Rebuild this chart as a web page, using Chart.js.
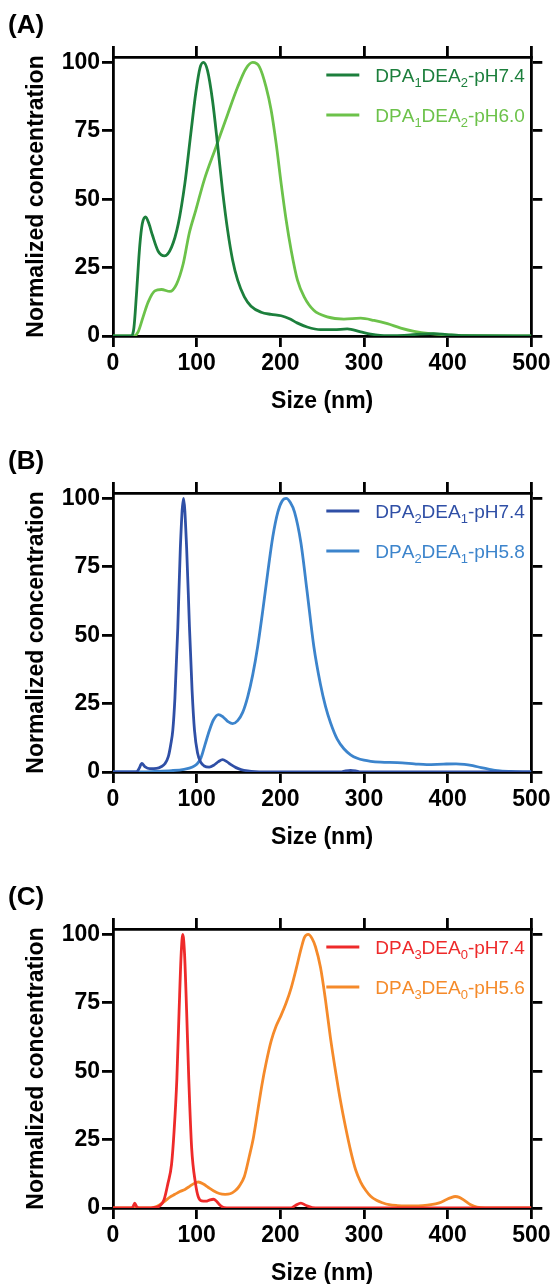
<!DOCTYPE html>
<html>
<head>
<meta charset="utf-8">
<title>Size distribution</title>
<script src="https://cdn.jsdelivr.net/npm/chart.js@4.4.1/dist/chart.umd.min.js"></script>
<style>
  html, body { margin: 0; padding: 0; background: #fff; overflow: hidden; }
  .panel { position: relative; width: 553px; height: 436px; }
</style>
</head>
<body>
<div class="panel"><canvas id="panelA"></canvas></div>
<div class="panel"><canvas id="panelB"></canvas></div>
<div class="panel"><canvas id="panelC"></canvas></div>

<script>
// ---- data (size in nm, normalized concentration) ----

// (A) DPA1DEA2
const sizeA74 = [0, 22, 25, 28, 32, 35, 39, 43, 47, 54, 61.6, 70, 78, 86, 93, 99, 104, 108, 113, 119, 125, 131, 137, 143, 149, 157, 165, 177, 189, 201, 211, 220, 232, 248, 264, 280, 296, 308, 328, 348, 367, 383, 399, 419, 500];
const concA74 = [0, 0, 3, 15, 33, 41, 43.5, 41, 37, 31, 29.3, 32.5, 41, 56, 74, 89, 98, 100, 97, 86, 70, 53, 38.7, 27.7, 20.4, 14.3, 10.9, 8.7, 7.9, 7.4, 6.3, 4.8, 3.3, 2.3, 2.3, 2.6, 1.5, 0.7, 0.1, 0.2, 0.7, 0.9, 0.5, 0.1, 0];
const sizeA60 = [0, 25, 30, 36, 42, 50, 58, 68, 76, 84, 91, 99, 109, 123, 137, 149, 159, 167, 175, 183, 189, 195, 201, 207, 213, 220.5, 228.5, 240, 256, 276, 296, 312, 328, 344, 360, 379, 399, 427, 500];
const concA60 = [0, 0, 1.5, 7, 12.4, 16.5, 17, 16.3, 19, 26.5, 37.4, 46, 57, 69, 81, 91, 97.8, 100, 98.4, 91, 82.6, 70.4, 55.7, 42.3, 31.3, 20.4, 14.3, 9.4, 7, 6.2, 6.5, 5.7, 4.5, 2.9, 1.7, 0.85, 0.4, 0.1, 0];

// (B) DPA2DEA1
const sizeB74 = [0, 28, 31, 34.5, 38, 44, 52, 58, 62, 66, 69, 71.5, 74, 77.5, 80.5, 84.3, 88, 91.4, 94.5, 97.4, 101, 105, 109, 115, 121, 126, 131, 136, 141, 147, 153, 161, 170, 180, 272, 278, 284, 290, 296, 500];
const concB74 = [0, 0, 1.2, 3.1, 2, 1.2, 1.3, 2, 3, 5.5, 10, 15.3, 27, 53, 82, 100, 82, 53, 30, 15.3, 7, 3.5, 2.2, 1.8, 2.6, 3.8, 4.5, 3.8, 2.7, 1.6, 0.9, 0.4, 0.1, 0, 0, 0.4, 0.6, 0.4, 0, 0];
const sizeB58 = [0, 30, 50, 70, 85, 95, 100, 105, 110, 115, 120, 126, 132, 138, 143, 149, 155, 161, 167, 173, 179, 185, 191, 197, 202, 207, 212, 217, 224.5, 232, 240, 248, 254, 260, 268, 276, 284, 292, 300, 308, 320, 340, 360, 375, 395, 410, 420, 430, 440, 450, 460, 475, 490, 500];
const concB58 = [0, 0, 0.2, 0.5, 1, 1.8, 2.8, 5, 10, 15, 19, 21, 20, 18.3, 17.7, 18.8, 21.8, 27.5, 35.5, 46, 59, 73, 86, 95, 99, 100, 98.5, 95, 84, 66, 46, 32, 24, 18, 12, 8.5, 6.3, 5, 4.3, 3.9, 3.6, 3.4, 3.0, 2.7, 2.9, 3.0, 2.8, 2.3, 1.6, 1.0, 0.5, 0.2, 0.05, 0];

// (C) DPA3DEA0
const sizeC74 = [0, 22, 24, 26, 28, 31, 40, 50, 56, 61, 65.6, 70, 73, 76.3, 79, 81.5, 83.4, 85.5, 88, 90.6, 94, 98.6, 102, 106, 111, 116, 120, 124, 128, 133, 140, 212, 218, 224.5, 231, 242, 500];
const concC74 = [0, 0, 0.5, 1.8, 0.6, 0, 0, 0.2, 0.8, 3, 8.9, 16, 28, 47, 72, 93, 100, 93, 72, 47, 22, 9, 4, 2.6, 2.5, 3.0, 3.2, 2.4, 1, 0.1, 0, 0, 0.9, 1.8, 0.9, 0, 0];
const sizeC56 = [0, 45, 50, 56, 62, 68, 74, 80, 86, 92, 97, 102, 108, 114, 120, 127, 134, 140, 146, 151, 157, 163, 168, 173, 178, 183, 189, 195, 201, 207, 213, 219, 225, 229, 233.3, 238, 242, 248, 254, 260, 266, 272, 278, 284, 290, 296, 302, 308, 315, 322, 330, 340, 350, 360, 370, 380, 390, 398, 404, 409, 414, 420, 427, 435, 445, 500];
const concC56 = [0, 0, 0.3, 1.2, 2.5, 4, 5, 6, 6.8, 8, 9, 9.5, 8.8, 7.5, 6.3, 5.3, 5, 5.2, 6.3, 8, 11.5, 19, 26, 35.5, 45, 53, 61, 66.5, 70.5, 75, 80.5, 87.5, 95, 99, 100, 98.5, 95.5, 88, 76, 62, 50, 39, 29.5, 21, 14, 9.5, 6.5, 4.3, 2.8, 1.9, 1.2, 0.9, 0.8, 0.8, 0.9, 1.2, 1.9, 3.0, 3.8, 4.2, 3.9, 2.8, 1.3, 0.3, 0, 0];

const xTicks = [0, 100, 200, 300, 400, 500];
const yTicks = [0, 25, 50, 75, 100];

Chart.defaults.font.family = "'Liberation Sans', Arial, Helvetica, sans-serif";
Chart.defaults.color = "#000";

const AXIS_W = 2.8;
const LINE_W = 2.8;
const TICK_LEN = 11;

function toPoints(xs, ys) {
  return xs.map((x, i) => ({ x: x, y: ys[i] }));
}

// legend drawn inside the plot, top right, with subscript digits
const SUBS = "₀₁₂₃₄₅₆₇₈₉";
const insideLegend = {
  id: "insideLegend",
  afterDatasetsDraw(chart) {
    const ctx = chart.ctx;
    const area = chart.chartArea;
    ctx.save();
    chart.data.datasets.forEach((ds, i) => {
      const y = area.top + 18 + i * 40;
      ctx.strokeStyle = ds.borderColor;
      ctx.lineWidth = 3;
      ctx.beginPath();
      ctx.moveTo(area.right - 205, y);
      ctx.lineTo(area.right - 172, y);
      ctx.stroke();

      ctx.fillStyle = ds.borderColor;
      ctx.textBaseline = "alphabetic";
      let x = area.right - 156;
      const base = y + 7;
      for (const ch of ds.label) {
        const k = SUBS.indexOf(ch);
        if (k >= 0) {
          ctx.font = "13px 'Liberation Sans', Arial, sans-serif";
          ctx.fillText(String(k), x, base + 5);
          x += ctx.measureText(String(k)).width;
        } else {
          ctx.font = "19px 'Liberation Sans', Arial, sans-serif";
          ctx.fillText(ch, x, base);
          x += ctx.measureText(ch).width;
        }
      }
    });
    ctx.restore();
  },
};

// (A), (B), (C)
const panelLabel = {
  id: "panelLabel",
  afterDraw(chart, args, opts) {
    const ctx = chart.ctx;
    ctx.save();
    ctx.font = "bold 26px 'Liberation Sans', Arial, sans-serif";
    ctx.fillStyle = "#000";
    ctx.textBaseline = "middle";
    ctx.fillText(opts.text, 8, 26);
    ctx.restore();
  },
};

function frameGrid() {
  return {
    display: true,
    drawOnChartArea: false,
    drawTicks: true,
    tickLength: TICK_LEN,
    color: "#000",
    lineWidth: AXIS_W,
  };
}

function frameBorder() {
  return { display: true, color: "#000", width: AXIS_W };
}

function createChart(canvasId, letter, series) {
  const canvas = document.getElementById(canvasId);
  if (!canvas) return;

  const datasets = series.map((s) => ({
    label: s.label,
    data: toPoints(s.x, s.y),
    borderColor: s.color,
    borderWidth: LINE_W,
    pointRadius: 0,
    fill: false,
    cubicInterpolationMode: "monotone",
  }));

  const tickFont = { size: 23, weight: "bold" };

  new Chart(canvas.getContext("2d"), {
    type: "line",
    data: { datasets: datasets },
    options: {
      responsive: true,
      maintainAspectRatio: false,
      animation: false,
      layout: { padding: 0 },
      plugins: {
        legend: { display: false },
        tooltip: { enabled: false },
        panelLabel: { text: letter },
      },
      scales: {
        x: {
          type: "linear",
          position: "bottom",
          min: xTicks[0],
          max: xTicks[xTicks.length - 1],
          afterBuildTicks: (s) => { s.ticks = xTicks.map((v) => ({ value: v })); },
          ticks: { font: tickFont, padding: 2.5, maxRotation: 0, color: "#000" },
          grid: frameGrid(),
          border: frameBorder(),
          title: {
            display: true,
            text: "Size (nm)",
            font: { size: 23, weight: "bold" },
            color: "#000",
            padding: { top: 0, bottom: 20.5 },
          },
          afterFit: (s) => { s.height = 100; },
        },
        x2: {
          type: "linear",
          position: "top",
          min: xTicks[0],
          max: xTicks[xTicks.length - 1],
          afterBuildTicks: (s) => { s.ticks = xTicks.map((v) => ({ value: v })); },
          ticks: { display: false },
          grid: frameGrid(),
          border: frameBorder(),
          afterFit: (s) => { s.height = 57; },
        },
        y: {
          type: "linear",
          position: "left",
          min: 0,
          max: 102,
          afterBuildTicks: (s) => { s.ticks = yTicks.map((v) => ({ value: v })); },
          ticks: { font: tickFont, padding: 2, color: "#000" },
          grid: frameGrid(),
          border: frameBorder(),
          title: {
            display: true,
            text: "Normalized concentration",
            font: { size: 23, weight: "bold" },
            color: "#000",
            padding: { top: 23, bottom: 0 },
          },
          afterFit: (s) => { s.width = 113; },
        },
        y2: {
          type: "linear",
          position: "right",
          min: 0,
          max: 102,
          afterBuildTicks: (s) => { s.ticks = yTicks.map((v) => ({ value: v })); },
          ticks: { display: false },
          grid: frameGrid(),
          border: frameBorder(),
          afterFit: (s) => { s.width = 20; },
        },
      },
    },
    plugins: [insideLegend, panelLabel],
  });
}

createChart("panelA", "(A)", [
  { label: "DPA₁DEA₂-pH7.4", x: sizeA74, y: concA74, color: "#1c7f3c" },
  { label: "DPA₁DEA₂-pH6.0", x: sizeA60, y: concA60, color: "#6cc24a" },
]);

createChart("panelB", "(B)", [
  { label: "DPA₂DEA₁-pH7.4", x: sizeB74, y: concB74, color: "#2f4fa6" },
  { label: "DPA₂DEA₁-pH5.8", x: sizeB58, y: concB58, color: "#3c84cc" },
]);

createChart("panelC", "(C)", [
  { label: "DPA₃DEA₀-pH7.4", x: sizeC74, y: concC74, color: "#ee2a2a" },
  { label: "DPA₃DEA₀-pH5.6", x: sizeC56, y: concC56, color: "#f58a2a" },
]);
</script>
</body>
</html>
